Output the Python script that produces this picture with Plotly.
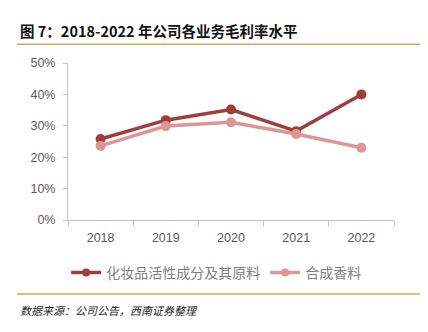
import plotly.graph_objects as go

years = ["2018", "2019", "2020", "2021", "2022"]
cosmetic = [0.258, 0.318, 0.352, 0.283, 0.400]
fragrance = [0.236, 0.299, 0.311, 0.274, 0.230]
series_names = ["化妆品活性成分及其原料", "合成香料"]
colors = ["#A23E3A", "#DE9694"]
y_ticks = [0, 0.1, 0.2, 0.3, 0.4, 0.5]

W, H = 428, 332
L, R, T, B = 68, 34, 63, 110
ph = H - T - B
pw = W - L - R

def py(y):
    return (H - B - y) / ph

def px(x):
    return (x - L) / pw

fig = go.Figure()
for vals, name, c in zip([cosmetic, fragrance], series_names, colors):
    fig.add_trace(go.Scatter(x=years, y=vals, name=name, mode="lines+markers", showlegend=False,
                             line=dict(color=c, width=3.5), marker=dict(size=10, color=c)))
for name, c in zip(series_names, colors):
    fig.add_trace(go.Scatter(x=[None], y=[None], name=name, mode="lines+markers",
                             line=dict(color=c, width=3.5), marker=dict(size=8, color=c)))

font_cjk = "Noto Sans CJK SC, Liberation Sans, sans-serif"
fig.update_layout(
    width=W, height=H, margin=dict(l=L, r=R, t=T, b=B),
    paper_bgcolor="white", plot_bgcolor="white",
    font=dict(family="Liberation Sans, Noto Sans CJK SC, sans-serif", size=12, color="#595959"),
    xaxis=dict(type="category", showline=True, linecolor="#BFBFBF", linewidth=1,
               ticks="outside", tickson="boundaries", ticklen=5, tickcolor="#BFBFBF",
               showgrid=False, tickfont=dict(size=12.5, color="#595959"), range=[-0.5, 4.5],
               ticklabelstandoff=6),
    yaxis=dict(range=[0, 0.5], tickvals=y_ticks, tickformat=".0%", showline=True,
               linecolor="#BFBFBF", linewidth=1, ticks="outside", ticklen=4, tickcolor="#BFBFBF",
               showgrid=False, zeroline=False, tickfont=dict(size=12.5, color="#595959"),
               ticklabelstandoff=5),
    legend=dict(orientation="h", xref="container", yref="container", x=0.505, xanchor="center",
                y=1 - 273 / H, yanchor="middle", font=dict(family=font_cjk, size=14, color="#808080"),
                itemwidth=30, traceorder="normal"),
    showlegend=True,
)

fig.add_annotation(text="<b>图 7：2018-2022 年公司各业务毛利率水平</b>", xref="paper", yref="paper",
                   x=px(18), y=py(30), xanchor="left", yanchor="middle", showarrow=False,
                   font=dict(family=font_cjk, size=14.5, color="#111111"))
fig.add_annotation(text="<i>数据来源：公司公告，西南证券整理</i>", xref="paper", yref="paper",
                   x=px(18), y=py(313), xanchor="left", yanchor="middle", showarrow=False,
                   font=dict(family=font_cjk, size=11, color="#222222"))
fig.add_shape(type="line", xref="paper", yref="paper", x0=px(17), x1=px(420), y0=py(44), y1=py(44),
              line=dict(color="#D9A45A", width=1.5))
fig.add_shape(type="line", xref="paper", yref="paper", x0=px(17), x1=px(420), y0=py(297), y1=py(297),
              line=dict(color="#D9A45A", width=1.5))

fig.write_html("out.html")
